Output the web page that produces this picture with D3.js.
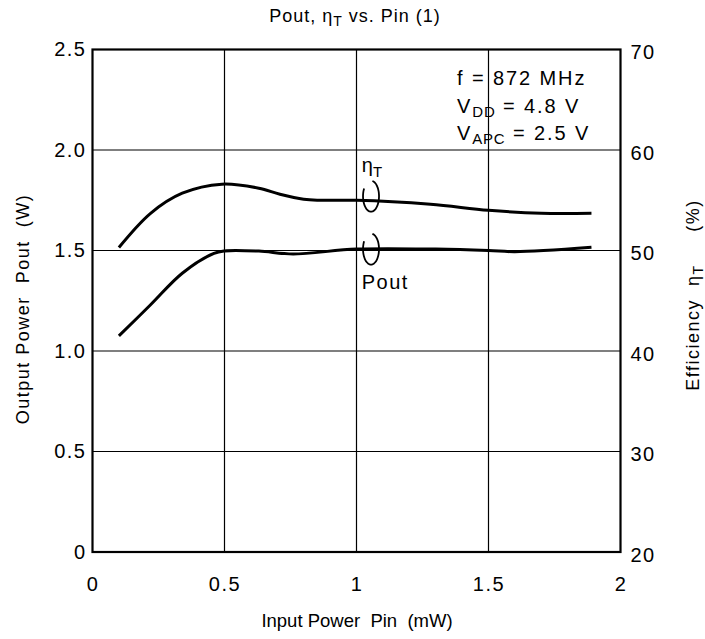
<!DOCTYPE html>
<html>
<head>
<meta charset="utf-8">
<script src="https://cdn.jsdelivr.net/npm/d3@7"></script>
<style>
    body { margin: 0; background: #fff; }
    text { font-family: "Liberation Sans", Arial, sans-serif; fill: #000; }
</style>
</head>
<body>
<svg id="chart"></svg>
<script>
const width = 705, height = 639

// data
const pin_eta = [0.1, 0.22, 0.34, 0.49, 0.63, 0.71, 0.8, 0.86, 1.0, 1.28, 1.5, 1.7, 1.89]
const eta = [50.3, 53.7, 55.7, 56.6, 56.2, 55.6, 55.1, 55.0, 55.0, 54.6, 54.0, 53.7, 53.7]
const pin_pout = [0.1, 0.22, 0.34, 0.46, 0.5, 0.63, 0.76, 1.0, 1.3, 1.5, 1.6, 1.89]
const pout = [1.075, 1.23, 1.387, 1.486, 1.498, 1.497, 1.483, 1.507, 1.507, 1.5, 1.494, 1.516]
const x_ticks = [0, 0.5, 1, 1.5, 2]
const y_ticks = [0, 0.5, 1.0, 1.5, 2.0, 2.5]
const y2_ticks = [20, 30, 40, 50, 60, 70]

const margin = {left: 92.5, right: 620.5, top: 49.5, bottom: 552}

let svg = d3.select("#chart")
    .attr("width", width)
    .attr("height", height)

let x = d3.scaleLinear().domain([0, 2]).range([margin.left, margin.right])
let y = d3.scaleLinear().domain([0, 2.5]).range([margin.bottom, margin.top])
let y2 = d3.scaleLinear().domain([20, 70]).range([margin.bottom, margin.top])

// grid
let grid = svg.append("g").attr("stroke", "#000").attr("stroke-width", 1.2)
grid.selectAll(".vx")
    .data(x_ticks.slice(1, -1))
    .enter().append("line")
    .attr("x1", d => x(d)).attr("x2", d => x(d))
    .attr("y1", margin.top).attr("y2", margin.bottom)
grid.selectAll(".hy")
    .data(y_ticks.slice(1, -1))
    .enter().append("line")
    .attr("y1", d => y(d)).attr("y2", d => y(d))
    .attr("x1", margin.left).attr("x2", margin.right)

// frame
svg.append("rect")
    .attr("x", margin.left).attr("y", margin.top)
    .attr("width", margin.right - margin.left)
    .attr("height", margin.bottom - margin.top)
    .attr("fill", "none").attr("stroke", "#000").attr("stroke-width", 2.2)

// axes via d3, domain/ticks hidden
function style_ticks(sel) {
    sel.style("font-size", "20px").style("letter-spacing", "1.5px").attr("font-family", null)
}
svg.append("g")
    .attr("transform", `translate(0,${margin.bottom})`)
    .call(d3.axisBottom(x).tickValues(x_ticks).tickSize(0).tickPadding(25).tickFormat(d3.format("")))
    .call(g => g.select(".domain").remove())
    .selectAll("text").call(style_ticks)

svg.append("g")
    .attr("transform", `translate(${margin.left},0)`)
    .call(d3.axisLeft(y).tickValues(y_ticks).tickSize(0).tickPadding(6)
        .tickFormat(d => d === 0 ? "0" : d3.format(".1f")(d)))
    .call(g => g.select(".domain").remove())
    .selectAll("text").call(style_ticks)

svg.append("g")
    .attr("transform", `translate(${margin.right},0)`)
    .call(d3.axisRight(y2).tickValues(y2_ticks).tickSize(0).tickPadding(10))
    .call(g => g.select(".domain").remove())
    .selectAll("text").call(style_ticks)
    .attr("dy", "0.45em")

// curves
let line_eta = d3.line().x((d, i) => x(pin_eta[i])).y(d => y2(d)).curve(d3.curveCatmullRom.alpha(0.5))
let line_pout = d3.line().x((d, i) => x(pin_pout[i])).y(d => y(d)).curve(d3.curveCatmullRom.alpha(0.5))

svg.append("path").datum(eta)
    .attr("d", line_eta)
    .attr("fill", "none").attr("stroke", "#000").attr("stroke-width", 3)
svg.append("path").datum(pout)
    .attr("d", line_pout)
    .attr("fill", "none").attr("stroke", "#000").attr("stroke-width", 3)

// loop markers
function loop(cx, cy, rx, ry) {
    let pts = d3.range(-80, 215, 5).map(a => {
        let t = a * Math.PI / 180
        return [cx + rx * Math.cos(t), cy + ry * Math.sin(t)]
    })
    return d3.line().curve(d3.curveBasis)(pts)
}
svg.append("path")
    .attr("d", loop(x(1.055), y2(55.4), 8, 15.5))
    .attr("fill", "none").attr("stroke", "#000").attr("stroke-width", 1.8)
svg.append("path")
    .attr("d", loop(x(1.055), y(1.507), 8, 15.5))
    .attr("fill", "none").attr("stroke", "#000").attr("stroke-width", 1.8)

let lab = svg.append("text").attr("x", x(1.02)).attr("y", y2(57.8)).style("font-size", "20px")
lab.append("tspan").text("\u03b7")
lab.append("tspan").text("T").attr("dy", 5).style("font-size", "15px")
svg.append("text").attr("x", x(1.02)).attr("y", y(1.31))
    .style("font-size", "20px").style("letter-spacing", "1.5px").text("Pout")

// conditions
let cond = svg.append("g").style("font-size", "20px").style("letter-spacing", "1.9px")
cond.append("text").attr("x", 457).attr("y", 85).text("f = 872 MHz")
let t2 = cond.append("text").attr("x", 457).attr("y", 113)
t2.append("tspan").text("V")
t2.append("tspan").text("DD").attr("dy", 4).style("font-size", "15px").style("letter-spacing", "0.8px")
t2.append("tspan").text(" = 4.8 V").attr("dy", -4)
let t3 = cond.append("text").attr("x", 457).attr("y", 140)
t3.append("tspan").text("V")
t3.append("tspan").text("APC").attr("dy", 4).style("font-size", "15px").style("letter-spacing", "0.8px")
t3.append("tspan").text(" = 2.5 V").attr("dy", -4)

// title
let title = svg.append("text").attr("x", 355).attr("y", 22)
    .attr("text-anchor", "middle").style("font-size", "18px").style("letter-spacing", "1px")
title.append("tspan").text("Pout, \u03b7")
title.append("tspan").text("T").attr("dy", 4).style("font-size", "14px")
title.append("tspan").text(" vs. Pin (1)").attr("dy", -4)

// axis titles
svg.append("text").attr("x", 357).attr("y", 627).attr("text-anchor", "middle")
    .style("font-size", "18.5px").attr("xml:space", "preserve")
    .text("Input Power  Pin  (mW)")

svg.append("text").attr("transform", "translate(29,309) rotate(-90)")
    .attr("text-anchor", "middle").style("font-size", "18px").style("letter-spacing", "1.5px")
    .attr("xml:space", "preserve")
    .text("Output Power  Pout  (W)")

let rt = svg.append("text").attr("transform", "translate(699,295) rotate(-90)")
    .attr("text-anchor", "middle").style("font-size", "18px").style("letter-spacing", "1.5px")
    .attr("xml:space", "preserve")
rt.append("tspan").text("Efficiency  \u03b7")
rt.append("tspan").text("T").attr("dy", 4).style("font-size", "14px")
rt.append("tspan").text("     (%)").attr("dy", -4)
</script>
</body>
</html>
